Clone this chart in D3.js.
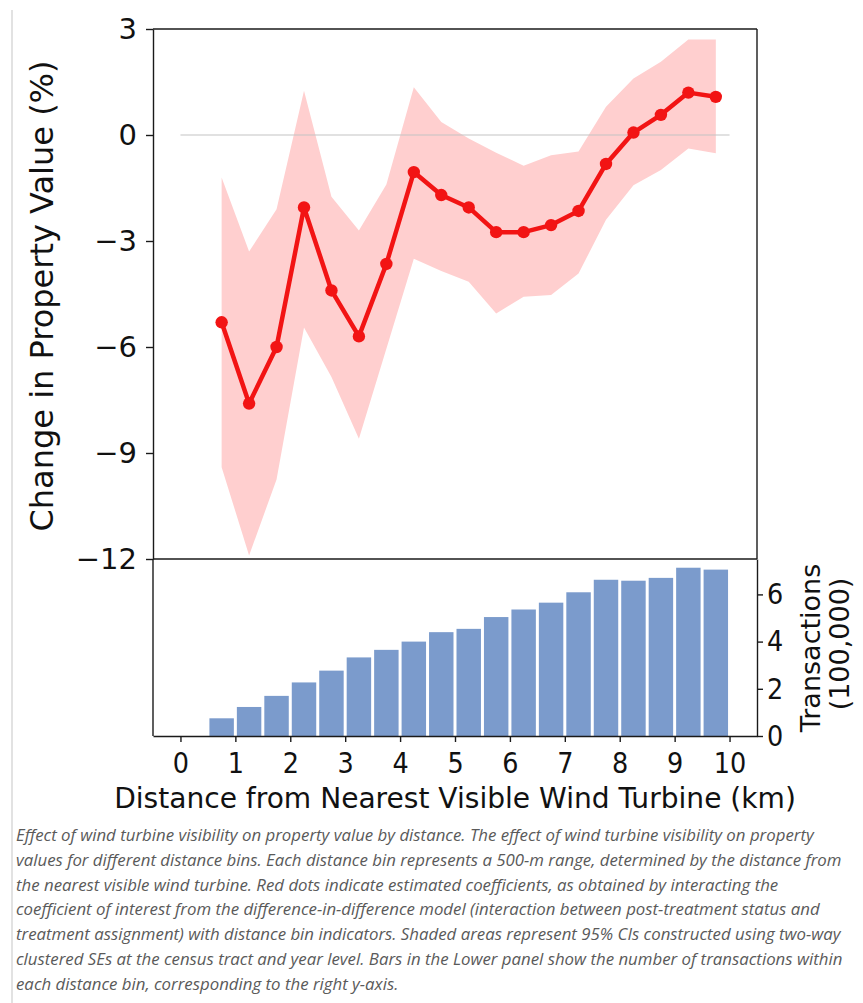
<!DOCTYPE html>
<html>
<head>
<meta charset="utf-8">
<script src="https://cdn.jsdelivr.net/npm/d3@7"></script>
<style>
body { margin: 0; background: #fff; }
svg text { font-family: "DejaVu Sans", sans-serif; fill: #111; }
.caption { font-family: "Open Sans", sans-serif; font-style: italic; fill: #5a5a5a; }
</style>
</head>
<body>
<svg width="863" height="1003"></svg>
<script>
"use strict";

// distance bin centres (km)
var distances = [0.75, 1.25, 1.75, 2.25, 2.75, 3.25, 3.75, 4.25, 4.75, 5.25,
    5.75, 6.25, 6.75, 7.25, 7.75, 8.25, 8.75, 9.25, 9.75];

// change in property value (%)
var coefficients = [-5.3, -7.6, -6.0, -2.05, -4.4, -5.7, -3.65, -1.05, -1.7, -2.05,
    -2.75, -2.75, -2.55, -2.15, -0.82, 0.07, 0.57, 1.2, 1.08];
var ciUpper = [-1.2, -3.3, -2.1, 1.25, -1.75, -2.7, -1.4, 1.35, 0.37, -0.1,
    -0.5, -0.87, -0.57, -0.47, 0.8, 1.6, 2.07, 2.7, 2.7];
var ciLower = [-9.4, -11.9, -9.75, -5.45, -6.85, -8.6, -6.05, -3.5, -3.85, -4.15,
    -5.05, -4.58, -4.53, -3.92, -2.4, -1.42, -0.99, -0.38, -0.52];

// transactions (100,000)
var transactions = [0.75, 1.23, 1.7, 2.27, 2.77, 3.33, 3.65, 4.0, 4.4, 4.54,
    5.04, 5.36, 5.65, 6.09, 6.62, 6.58, 6.7, 7.13, 7.05];

var xTicks = [0, 1, 2, 3, 4, 5, 6, 7, 8, 9, 10];
var yTicksTop = [3, 0, -3, -6, -9, -12];
var yTicksBottom = [0, 2, 4, 6];

var captionLines = [
    'Effect of wind turbine visibility on property value by distance. The effect of wind turbine visibility on property',
    'values for different distance bins. Each distance bin represents a 500-m range, determined by the distance from',
    'the nearest visible wind turbine. Red dots indicate estimated coefficients, as obtained by interacting the',
    'coefficient of interest from the difference-in-difference model (interaction between post-treatment status and',
    'treatment assignment) with distance bin indicators. Shaded areas represent 95% CIs constructed using two-way',
    'clustered SEs at the census tract and year level. Bars in the Lower panel show the number of transactions within',
    'each distance bin, corresponding to the right y-axis.'
];

var svg = d3.select('svg');

var xScale = d3.scaleLinear().domain([-0.5, 10.5]).range([153, 757]);
var yTop = d3.scaleLinear().domain([-12, 3]).range([559, 29]);
var yBottom = d3.scaleLinear().domain([0, 7.5]).range([736, 559]);

// squeeze horizontal text a bit, the reference type is narrow
function squeeze(sel, sx) {
    sel.each(function () {
        var t = d3.select(this);
        var x = +t.attr('x') || 0;
        var y = +t.attr('y') || 0;
        t.attr('x', 0).attr('y', 0)
            .attr('transform', 'translate(' + x + ',' + y + ') scale(' + sx + ',1)');
    });
}

// left border of the figure block
svg.append('line')
    .attr('x1', 12).attr('x2', 12)
    .attr('y1', 10).attr('y2', 1003)
    .attr('stroke', '#e2e2e2')
    .attr('stroke-width', 2);

// confidence band
var band = d3.area()
    .x(function (d, i) { return xScale(distances[i]); })
    .y0(function (d, i) { return yTop(ciLower[i]); })
    .y1(function (d, i) { return yTop(ciUpper[i]); });

svg.append('path')
    .datum(distances)
    .attr('d', band)
    .attr('fill', '#ffcfcf');

// zero line
svg.append('line')
    .attr('x1', xScale(0)).attr('x2', xScale(10))
    .attr('y1', yTop(0)).attr('y2', yTop(0))
    .attr('stroke', '#c4c4c4')
    .attr('stroke-width', 1.2);

// coefficient line + dots
var line = d3.line()
    .x(function (d, i) { return xScale(distances[i]); })
    .y(function (d) { return yTop(d); });

svg.append('path')
    .datum(coefficients)
    .attr('d', line)
    .attr('fill', 'none')
    .attr('stroke', '#f21414')
    .attr('stroke-width', 4.5)
    .attr('stroke-linejoin', 'round');

svg.append('g')
    .selectAll('circle')
    .data(coefficients)
    .enter()
    .append('circle')
    .attr('cx', function (d, i) { return xScale(distances[i]); })
    .attr('cy', function (d) { return yTop(d); })
    .attr('r', 6.2)
    .attr('fill', '#f21414');

// transaction bars
var binWidth = xScale(0.5) - xScale(0);

svg.append('g')
    .selectAll('rect')
    .data(transactions)
    .enter()
    .append('rect')
    .attr('x', function (d, i) { return xScale(distances[i] - 0.25) + 1.5; })
    .attr('width', binWidth - 3)
    .attr('y', function (d) { return yBottom(d); })
    .attr('height', function (d) { return yBottom(0) - yBottom(d); })
    .attr('fill', '#7b9bcc');

// spines that are not axes
var spineColor = '#1a1a1a';
svg.append('line')
    .attr('x1', 153).attr('x2', 757).attr('y1', 29).attr('y2', 29);
svg.append('line')
    .attr('x1', 757).attr('x2', 757).attr('y1', 29).attr('y2', 559);
svg.append('line')
    .attr('x1', 153).attr('x2', 757).attr('y1', 559).attr('y2', 559);
svg.append('line')
    .attr('x1', 153).attr('x2', 153).attr('y1', 559).attr('y2', 736);
svg.selectAll('line:not([stroke])')
    .attr('stroke', spineColor)
    .attr('stroke-width', 1.4);

// axes
var axisTopLeft = svg.append('g')
    .attr('transform', 'translate(153,0)')
    .call(d3.axisLeft(yTop)
        .tickValues(yTicksTop)
        .tickFormat(d3.format('d'))
        .tickSize(7)
        .tickSizeOuter(0)
        .tickPadding(9));

var axisBottomRight = svg.append('g')
    .attr('transform', 'translate(757,0)')
    .call(d3.axisRight(yBottom)
        .tickValues(yTicksBottom)
        .tickFormat(d3.format('d'))
        .tickSize(6)
        .tickSizeOuter(0)
        .tickPadding(4));

var axisX = svg.append('g')
    .attr('transform', 'translate(0,736)')
    .call(d3.axisBottom(xScale)
        .tickValues(xTicks)
        .tickFormat(d3.format('d'))
        .tickSize(6)
        .tickSizeOuter(0)
        .tickPadding(10));

svg.selectAll('.domain, .tick line')
    .attr('stroke', spineColor)
    .attr('stroke-width', 1.4);

svg.selectAll('.tick text')
    .attr('fill', '#111')
    .style('font-size', '29px');

squeeze(axisX.selectAll('.tick text'), 0.88);
squeeze(axisBottomRight.selectAll('.tick text'), 0.88);

// axis titles
svg.append('text')
    .attr('transform', 'translate(53,296) rotate(-90)')
    .attr('text-anchor', 'middle')
    .style('font-size', '32px')
    .text('Change in Property Value (%)');

var xTitle = svg.append('text')
    .attr('x', 455)
    .attr('y', 808)
    .attr('text-anchor', 'middle')
    .style('font-size', '28px')
    .text('Distance from Nearest Visible Wind Turbine (km)');
var xTitleWidth = xTitle.node().getComputedTextLength();
squeeze(xTitle, 682 / xTitleWidth);

svg.append('text')
    .attr('transform', 'translate(820,648) rotate(-90)')
    .attr('text-anchor', 'middle')
    .style('font-size', '27px')
    .text('Transactions');

svg.append('text')
    .attr('transform', 'translate(849,644) rotate(-90)')
    .attr('text-anchor', 'middle')
    .style('font-size', '27px')
    .text('(100,000)');

// caption
var caption = svg.append('g')
    .selectAll('text')
    .data(captionLines)
    .enter()
    .append('text')
    .attr('class', 'caption')
    .attr('x', 16)
    .attr('y', function (d, i) { return 841 + i * 24.8; })
    .style('font-size', '16px')
    .text(function (d) { return d; });

var firstWidth = caption.node().getComputedTextLength();
squeeze(caption, 798 / firstWidth);
</script>
</body>
</html>
